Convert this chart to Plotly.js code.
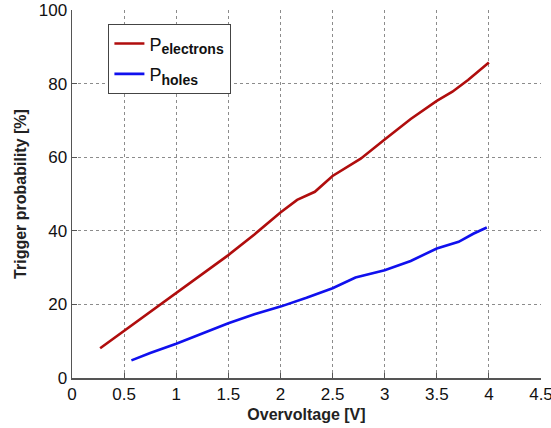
<!DOCTYPE html>
<html>
<head>
<meta charset="utf-8">
<script src="https://cdn.plot.ly/plotly-3.0.1.min.js"></script>
<style>html,body{margin:0;padding:0;background:#fff;}#chart{width:551px;height:428px;}</style>
</head>
<body>
<div id="chart"></div>
<script>
// Overvoltage [V]
var electronsX = [0.27, 0.5, 0.75, 1.0, 1.25, 1.5, 1.75, 2.0, 2.16, 2.22, 2.33, 2.5, 2.77, 3.0, 3.25, 3.5, 3.65, 3.8, 4.0];
var electronsY = [8.1, 12.8, 18.0, 23.2, 28.3, 33.4, 39.0, 45.0, 48.4, 49.2, 50.6, 54.9, 59.6, 64.8, 70.4, 75.3, 77.8, 81.0, 85.7];
var holesX = [0.57, 0.75, 1.0, 1.25, 1.5, 1.75, 2.0, 2.25, 2.5, 2.72, 2.85, 3.0, 3.25, 3.5, 3.71, 3.85, 3.98];
var holesY = [4.8, 6.8, 9.3, 12.0, 14.9, 17.3, 19.4, 21.8, 24.4, 27.3, 28.2, 29.3, 31.8, 35.2, 37.0, 39.2, 40.9];
var xTicks = [0, 0.5, 1, 1.5, 2, 2.5, 3, 3.5, 4, 4.5];
var xTickText = ['0', '0.5', '1', '1.5', '2', '2.5', '3', '3.5', '4', '4.5'];
var yTicks = [0, 20, 40, 60, 80, 100];
var seriesSymbol = 'P';
var seriesSubs = ['electrons', 'holes'];

var font = 'Liberation Sans, Arial, sans-serif';
function legendName(i) {
  return seriesSymbol + '<sub><span style="font-size:14px;font-weight:bold">' + seriesSubs[i] + '</span></sub>';
}
var traces = [
  {x: electronsX, y: electronsY, mode: 'lines', name: legendName(0), legendgroup: 'e',
   line: {color: '#b00d0d', width: 2.6}},
  {x: holesX, y: holesY, mode: 'lines', name: legendName(1), legendgroup: 'h',
   line: {color: '#1010ee', width: 2.6}}
];
var layout = {
  width: 551, height: 428,
  margin: {l: 72, r: 10, t: 10, b: 50},
  paper_bgcolor: '#fff', plot_bgcolor: '#fff',
  font: {family: font, size: 17, color: '#111'},
  showlegend: true,
  legend: {
    x: 0.077, y: 0.962, xanchor: 'left', yanchor: 'top',
    bgcolor: '#fff', bordercolor: '#444', borderwidth: 1.3,
    font: {family: font, size: 18, color: '#111'},
    tracegroupgap: 4
  },
  xaxis: {
    range: [0, 4.5], tickvals: xTicks, ticktext: xTickText,
    showline: true, linecolor: '#555', linewidth: 1.5, mirror: false,
    ticks: 'inside', ticklen: 5, tickcolor: '#555', tickwidth: 1,
    showgrid: true, gridcolor: '#8c8c8c', griddash: 'dot', gridwidth: 1,
    zeroline: false, ticklabeloverflow: 'allow',
    tickfont: {family: font, size: 17, color: '#111'},
    title: {text: '<b>Overvoltage [V]</b>', font: {family: font, size: 16, color: '#222'}, standoff: 6}
  },
  yaxis: {
    range: [0, 100], tickvals: yTicks,
    showline: true, linecolor: '#555', linewidth: 1.5, mirror: false,
    ticks: 'inside', ticklen: 5, tickcolor: '#555', tickwidth: 1,
    showgrid: true, gridcolor: '#8c8c8c', griddash: 'dot', gridwidth: 1,
    zeroline: false, ticklabeloverflow: 'allow',
    tickfont: {family: font, size: 17, color: '#111'},
    title: {text: '<b>Trigger probability [%]</b>', font: {family: font, size: 16, color: '#222'}, standoff: 8}
  }
};
Plotly.newPlot('chart', traces, layout, {displayModeBar: false, staticPlot: true});
</script>
</body>
</html>
